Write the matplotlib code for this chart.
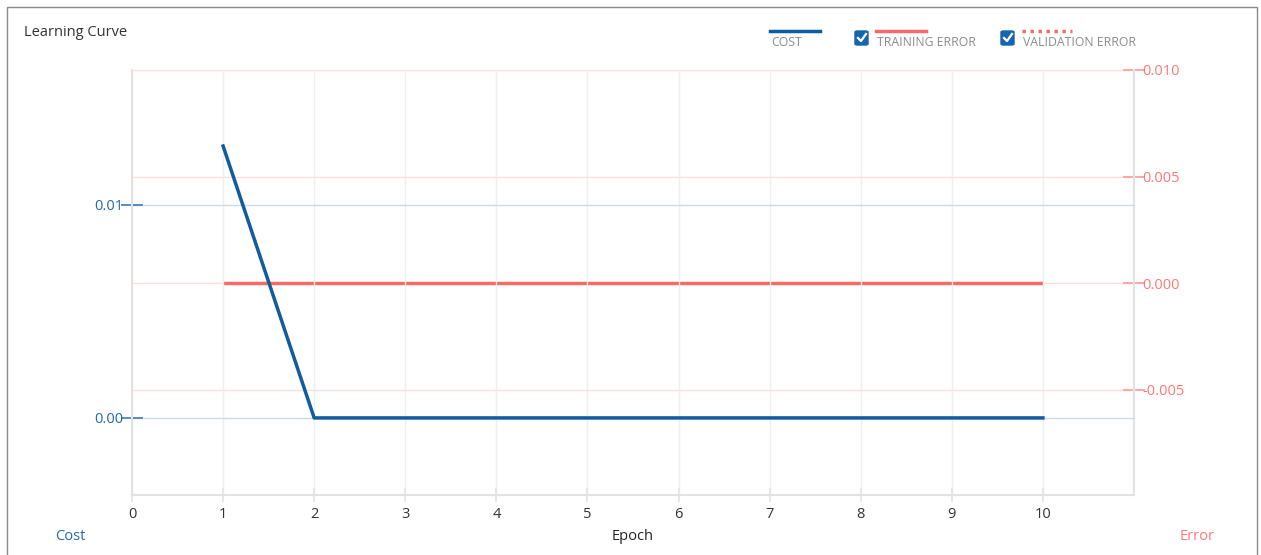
import matplotlib.pyplot as plt
import numpy as np
from matplotlib.patches import FancyBboxPatch, Rectangle
from matplotlib.lines import Line2D

plt.rcParams['font.family'] = ['Open Sans', 'DejaVu Sans']

# data
epochs = [1, 2, 3, 4, 5, 6, 7, 8, 9, 10]
cost = [0.01277, 0.0, 0.0, 0.0, 0.0, 0.0, 0.0, 0.0, 0.0, 0.0]
training_error = [0.0] * 10
validation_error = [0.0] * 10
x_ticks = list(range(0, 11))
cost_ticks = [0.0, 0.01]
error_ticks = [-0.005, 0.0, 0.005, 0.010]

BLUE = '#0f5c9e'
BLUE_TXT = '#2468a8'
RED = '#f76a6a'
RED_TXT = '#ff7878'
AXIS_GRAY = '#e2e2e2'

W, H = 1261, 555
fig = plt.figure(figsize=(W / 100, H / 100), dpi=100, facecolor='white')


def px(x, y):
    return x / W, 1 - y / H


# outer frame
fig.add_artist(Rectangle(px(7, 560), (1257 - 7) / W, (560 - 7) / H, transform=fig.transFigure,
                         fill=False, edgecolor='#8a8a8a', linewidth=1.0))

ax = fig.add_axes([132 / W, 60 / H, (1134 - 132) / W, (495 - 70) / H])
ax2 = ax.twinx()
ax.set_zorder(ax2.get_zorder() + 1)
ax.patch.set_visible(False)

ax.set_xlim(0, 11)
ax.set_ylim(-0.00362, 0.01634)
ax2.set_ylim(-0.00993, 0.010)

# gridlines
for x in x_ticks:
    ax.axvline(x, color='#eeeeee', linewidth=1.0, zorder=0)
for y in error_ticks:
    ax2.axhline(y, color='#ffdede', linewidth=1.0, zorder=0)
for y in cost_ticks:
    ax.axhline(y, color='#c9dbe8', linewidth=1.0, zorder=0)

# series
ax2.plot(epochs, validation_error, color=RED, linewidth=1.5, linestyle=(0, (1, 1.5)), zorder=2)
ax2.plot(epochs, training_error, color=RED, linewidth=2.5, solid_capstyle='butt', zorder=3)
ax.plot(epochs, cost, color=BLUE, linewidth=2.5, zorder=4)

# axes styling
for a in (ax, ax2):
    a.spines['top'].set_visible(False)
    for s in ('left', 'right', 'bottom'):
        a.spines[s].set_color(AXIS_GRAY)
        a.spines[s].set_linewidth(1.5)
ax.spines['right'].set_visible(False)
ax2.spines['left'].set_visible(False)
ax2.spines['bottom'].set_visible(False)

ax.set_xticks(x_ticks)
ax.tick_params(axis='x', direction='inout', length=10, width=1.2, color=AXIS_GRAY,
               labelsize=10.5, labelcolor='#333333', pad=4)
ax.set_yticks(cost_ticks)
ax.set_yticklabels([f'{v:.2f}' for v in cost_ticks])
ax.tick_params(axis='y', direction='inout', length=16, width=1.2, color='#3d7bb5',
               labelsize=10.5, labelcolor=BLUE_TXT, pad=-2)
ax2.set_yticks(error_ticks)
ax2.set_yticklabels([f'{v:.3f}' for v in error_ticks])
ax2.tick_params(axis='y', direction='inout', length=16, width=1.2, color='#ff9a9a',
                labelsize=10.5, labelcolor=RED_TXT, pad=-2)

# titles and axis labels
fig.text(*px(24, 32), 'Learning Curve', fontsize=10.5, color='#333333', va='center', ha='left')
fig.text(*px(633, 537), 'Epoch', fontsize=10.5, color='#222222', va='center', ha='center')
fig.text(*px(70, 537), 'Cost', fontsize=10.5, color=BLUE_TXT, va='center', ha='center')
fig.text(*px(1197, 537), 'Error', fontsize=10.5, color=RED_TXT, va='center', ha='center')

# custom legend
legend_items = [('COST', BLUE, '-', False, 770),
                ('TRAINING ERROR', RED, '-', True, 876),
                ('VALIDATION ERROR', RED, ':', True, 1022)]
for label, color, ls, checkbox, x0 in legend_items:
    lx0, ly = px(x0, 31)
    lx1, _ = px(x0 + 50, 31)
    fig.add_artist(Line2D([lx0, lx1], [ly, ly], transform=fig.transFigure, color=color,
                          linewidth=2.5, linestyle=(0, (1, 1.3)) if ls == ':' else '-'))
    fig.text(*px(x0 + 1, 43), label, fontsize=8.8, color='#8a8a8a', va='center', ha='left')
    if checkbox:
        bx, by = px(x0 - 21, 45)
        fig.add_artist(FancyBboxPatch((bx, by), 13 / W, 14 / H, transform=fig.transFigure,
                                      boxstyle='round,pad=0,rounding_size=0.002',
                                      facecolor='#1565b0', edgecolor='#1565b0'))
        cx = [x0 - 18, x0 - 15, x0 - 10]
        cy = [38, 41, 34]
        pts = [px(a, b) for a, b in zip(cx, cy)]
        fig.add_artist(Line2D([p[0] for p in pts], [p[1] for p in pts], transform=fig.transFigure,
                              color='white', linewidth=1.6))

fig.savefig('out.png', dpi=100, facecolor='white')
